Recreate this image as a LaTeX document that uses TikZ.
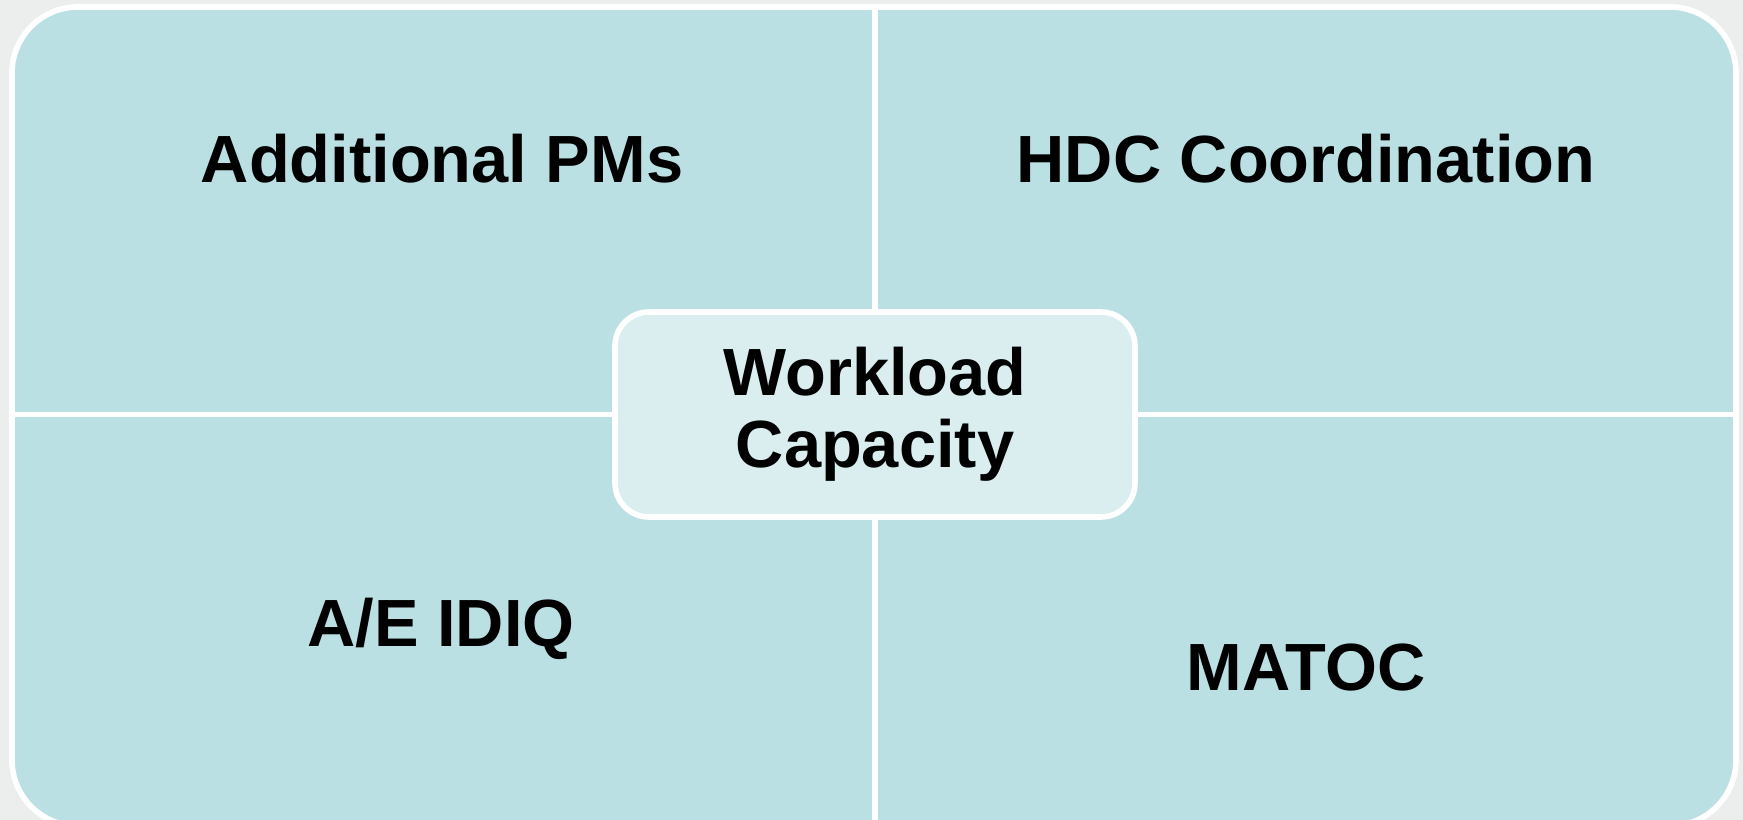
\documentclass[tikz,border=0pt]{standalone}
\usepackage{fontspec}
\setmainfont{Liberation Sans}
\definecolor{backdrop}{HTML}{ECEEED}
\definecolor{quadfill}{HTML}{BBE0E3}
\definecolor{corefill}{HTML}{DAEEF0}
\begin{document}
\begin{tikzpicture}[every node/.style={font=\bfseries\fontsize{19}{20.6}\selectfont,align=center,inner sep=0},
	frame/.style={draw=white,line width=1.6pt,fill=quadfill,rounded corners=0.66cm,
		minimum width=17.24cm,minimum height=8.19cm},
	core/.style={draw=white,line width=1.6pt,fill=corefill,rounded corners=0.34cm,
		minimum width=5.2cm,minimum height=2.05cm},
	divider/.style={draw=white,line width=1.6pt}]
\fill[backdrop] (0,0) rectangle (17.43,8.20);
\useasboundingbox (0,0) rectangle (17.43,8.20);
\node[frame] (frame) at (8.74,4.035) {};
\node[core] (core) at (8.75,4.055) {Workload\\Capacity};
\draw[divider] (core.north) -- (core.north |- frame.north);
\draw[divider] (core.south) -- (core.south |- frame.south);
\draw[divider] (core.west) -- (core.west -| frame.west);
\draw[divider] (core.east) -- (core.east -| frame.east);
\node (pms) at (4.42,6.61) {Additional PMs};
\node (hdc) at (13.06,6.61) {HDC Coordination};
\node (idiq) at (4.41,1.91) {A/E IDIQ};
\node (matoc) at (13.06,1.52) {MATOC};
\end{tikzpicture}
\end{document}
